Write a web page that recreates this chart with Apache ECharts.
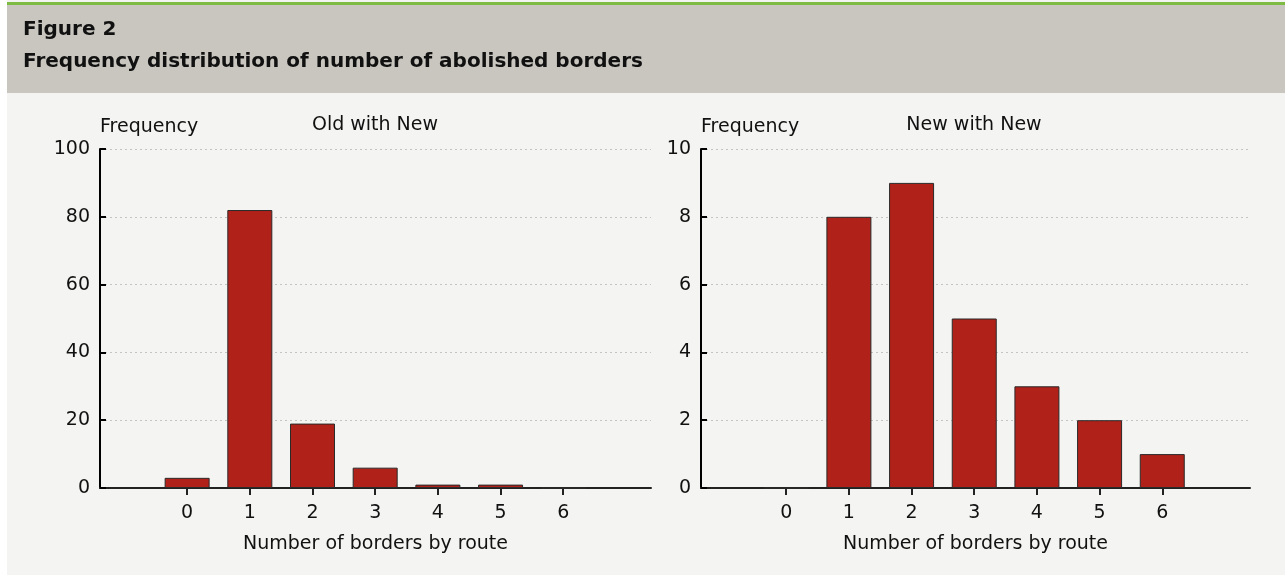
<!DOCTYPE html>
<html>
<head>
<meta charset="utf-8">
<script src="https://cdn.jsdelivr.net/npm/echarts@6/dist/echarts.min.js"></script>
<style>
  html, body { margin: 0; padding: 0; background: #fff; }
  #chart { width: 1285px; height: 575px; }
</style>
</head>
<body>
<div id="chart"></div>
<script>
// categories: number of borders by route
const borders = [0, 1, 2, 3, 4, 5, 6];
const oldWithNew = [3, 82, 19, 6, 1, 1, 0];
const newWithNew = [0, 8, 9, 5, 3, 2, 1];

const FONT = "DejaVu Sans";
const BAR = "#b0211a";

function pairs(vals) {
  return borders.map((b, i) => [b, vals[i]]);
}

function xAxis(idx, min, max) {
  return {
    type: "value",
    gridIndex: idx,
    min: min,
    max: max,
    name: "Number of borders by route",
    nameLocation: "middle",
    nameGap: 47,
    nameTextStyle: { fontFamily: FONT, fontSize: 19, color: "#111" },
    axisLine: { show: true, onZero: false, lineStyle: { color: "#222", width: 2 } },
    axisTick: { show: true, customValues: borders, length: 7, lineStyle: { color: "#222", width: 2 } },
    axisLabel: { customValues: borders, margin: 16, fontFamily: FONT, fontSize: 19, color: "#111" },
    splitLine: { show: false }
  };
}

function yAxis(idx, max, step) {
  return {
    type: "value",
    gridIndex: idx,
    min: 0,
    max: max,
    interval: step,
    name: "Frequency",
    nameLocation: "end",
    nameGap: 12,
    nameTextStyle: { fontFamily: FONT, fontSize: 19, color: "#111", align: "left" },
    axisLine: { show: true, onZero: false, lineStyle: { color: "#000", width: 2 } },
    axisTick: { show: true, inside: true, length: 6, lineStyle: { color: "#000", width: 2 } },
    axisLabel: { margin: 10, fontFamily: FONT, fontSize: 19, color: "#111" },
    splitLine: { show: true, lineStyle: { color: "#c4c4c4", type: [2, 3], width: 1 } }
  };
}

const chart = echarts.init(document.getElementById("chart"));
chart.setOption({
  animation: false,
  backgroundColor: "#fff",
  graphic: [
    { type: "rect", z: -10, shape: { x: 7, y: 0, width: 1278, height: 575 }, style: { fill: "#f4f4f2" } },
    { type: "rect", z: -9, shape: { x: 7, y: 5, width: 1278, height: 88 }, style: { fill: "#c9c6bf" } },
    { type: "rect", z: -9, shape: { x: 7, y: 2, width: 1278, height: 3 }, style: { fill: "#7dbb42" } },
    { type: "text", x: 23, y: 30, style: { text: "Figure 2", fontFamily: FONT, fontWeight: "bold", fontSize: 20, fill: "#111", textVerticalAlign: "middle" } },
    { type: "text", x: 23, y: 62, style: { text: "Frequency distribution of number of abolished borders", fontFamily: FONT, fontWeight: "bold", fontSize: 20, fill: "#111", textVerticalAlign: "middle" } },
    { type: "text", x: 375, y: 125, style: { text: "Old with New", fontFamily: FONT, fontSize: 19, fill: "#111", textAlign: "center", textVerticalAlign: "middle" } },
    { type: "text", x: 974, y: 125, style: { text: "New with New", fontFamily: FONT, fontSize: 19, fill: "#111", textAlign: "center", textVerticalAlign: "middle" } }
  ],
  grid: [
    { left: 100, right: 634, top: 149, bottom: 87 },
    { left: 701, right: 35, top: 149, bottom: 87 }
  ],
  xAxis: [xAxis(0, -1.39, 7.4), xAxis(1, -1.36, 7.4)],
  yAxis: [yAxis(0, 100, 20), yAxis(1, 10, 2)],
  series: [
    {
      type: "bar", xAxisIndex: 0, yAxisIndex: 0, barWidth: 45,
      itemStyle: { color: BAR, borderColor: "#2a2a2a", borderWidth: 1 },
      data: pairs(oldWithNew)
    },
    {
      type: "bar", xAxisIndex: 1, yAxisIndex: 1, barWidth: 45,
      itemStyle: { color: BAR, borderColor: "#2a2a2a", borderWidth: 1 },
      data: pairs(newWithNew)
    }
  ]
});
</script>
</body>
</html>
